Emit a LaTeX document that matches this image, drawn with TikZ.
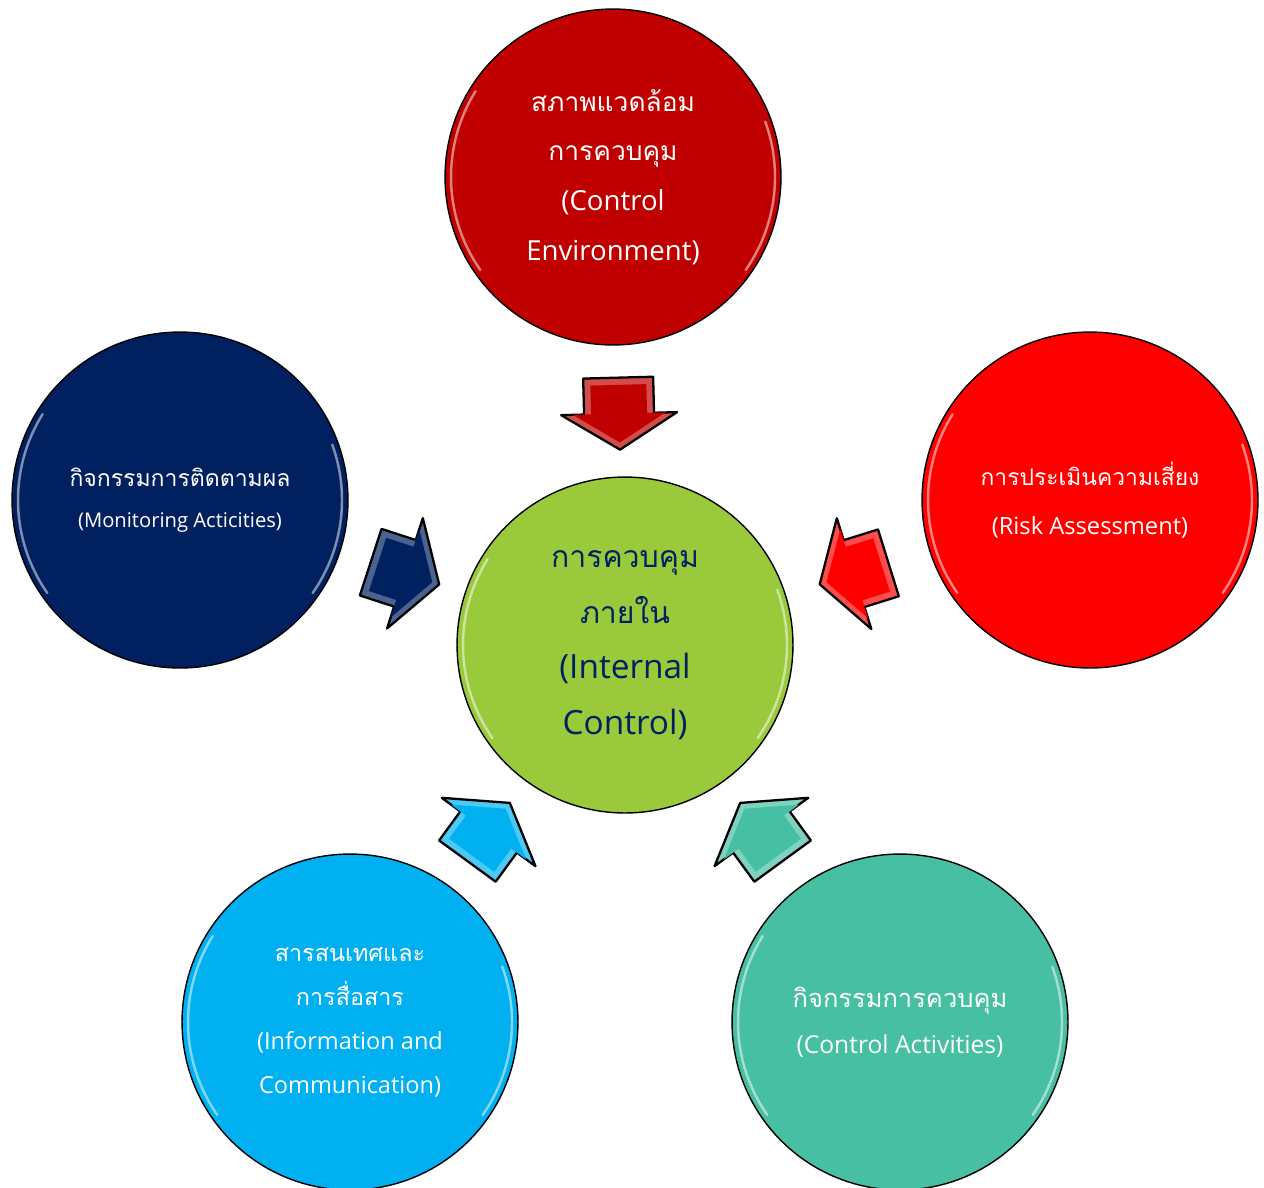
\documentclass[tikz,border=0pt]{standalone}
\usepackage{fontspec}
\usetikzlibrary{calc}
\newfontfamily\thai[Script=Thai]{Loma}
\newfontfamily\latin{Open Sans}
\definecolor{envred}{HTML}{C00000}
\definecolor{riskred}{HTML}{FF0000}
\definecolor{monnavy}{HTML}{002060}
\definecolor{icgreen}{HTML}{9ACA3C}
\definecolor{infocyan}{HTML}{00B0F0}
\definecolor{actteal}{HTML}{47BFA3}

\tikzset{
  bubble/.style={circle, draw=black, line width=0.8pt, minimum size=6.72cm,
    inner sep=0pt, align=center, text=white},
  glint/.style={white, line width=1.4pt, opacity=0.5, line cap=round},
  pointer/.style={draw=black, line width=1.3pt, line join=round},
}

% block arrow: position, angle, colour
\newcommand{\blockarrow}[3]{%
  \begin{scope}[shift={#1}, rotate=#2]
    \filldraw[pointer, fill=#3!70!white] (-36,-35) -- (0,-35) -- (0,-58) -- (36,0) -- (0,58) -- (0,35) -- (-36,35) -- cycle;
    \fill[#3, scale=0.8] (-36,-35) -- (0,-35) -- (0,-58) -- (36,0) -- (0,58) -- (0,35) -- (-36,35) -- cycle;
  \end{scope}}

\begin{document}
\begin{tikzpicture}[x=0.02cm, y=-0.02cm]
\useasboundingbox (0,0) rectangle (1264,1187);

% the six circles
\node[bubble, fill=icgreen, text=monnavy, font=\fontsize{19}{31.7}\selectfont] (ic) at (625,645)
  {{\thai\fontsize{17.2}{31.7}\selectfont การควบคุม}\\{\thai\fontsize{17.2}{31.7}\selectfont ภายใน}\\{\latin (Internal}\\{\latin Control)}};
\node[bubble, fill=envred, font=\fontsize{15.7}{28.3}\selectfont] (ce) at (613,177)
  {{\thai\fontsize{15}{28.3}\selectfont สภาพแวดล้อม}\\{\thai\fontsize{15}{28.3}\selectfont การควบคุม}\\{\latin (Control}\\{\latin Environment)}};
\node[bubble, fill=monnavy, font=\fontsize{11.5}{23}\selectfont] (ma) at (180,500)
  {{\thai\fontsize{13.1}{23}\selectfont กิจกรรมการติดตามผล}\\{\latin (Monitoring Acticities)}};
\node[bubble, fill=riskred, font=\fontsize{13.5}{28.3}\selectfont] (ra) at (1090,500)
  {{\thai\fontsize{13}{28.3}\selectfont การประเมินความเสี่ยง}\\{\latin (Risk Assessment)}};
\node[bubble, fill=infocyan, font=\fontsize{13.4}{25}\selectfont] (ic2) at (350,1022)
  {{\thai\fontsize{13.3}{25}\selectfont สารสนเทศและ}\\{\thai\fontsize{13.3}{25}\selectfont การสื่อสาร}\\{\latin (Information and}\\{\latin Communication)}};
\node[bubble, fill=actteal, font=\fontsize{14}{26}\selectfont] (ca) at (900,1022)
  {{\thai\fontsize{14.5}{26}\selectfont กิจกรรมการควบคุม}\\{\latin (Control Activities)}};

% glossy rims
\foreach \c in {ic,ce,ma,ra,ic2,ca} {
  \draw[glint] ([shift={(145:162)}]\c.center) arc (145:212:162);
  \draw[glint] ([shift={(-20:162)}]\c.center) arc (-20:35:162);
}

% arrows into the middle
\blockarrow{($(ic)!4.63cm!(ce)$)}{-88.5}{envred}
\blockarrow{($(ic)!4.63cm!(ma)$)}{-18}{monnavy}
\blockarrow{($(ic)!4.8cm!(ra)$)}{-162.7}{riskred}
\blockarrow{($(ic)!4.63cm!(ic2)$)}{53.9}{infocyan}
\blockarrow{($(ic)!4.63cm!(ca)$)}{126.1}{actteal}
\end{tikzpicture}
\end{document}
